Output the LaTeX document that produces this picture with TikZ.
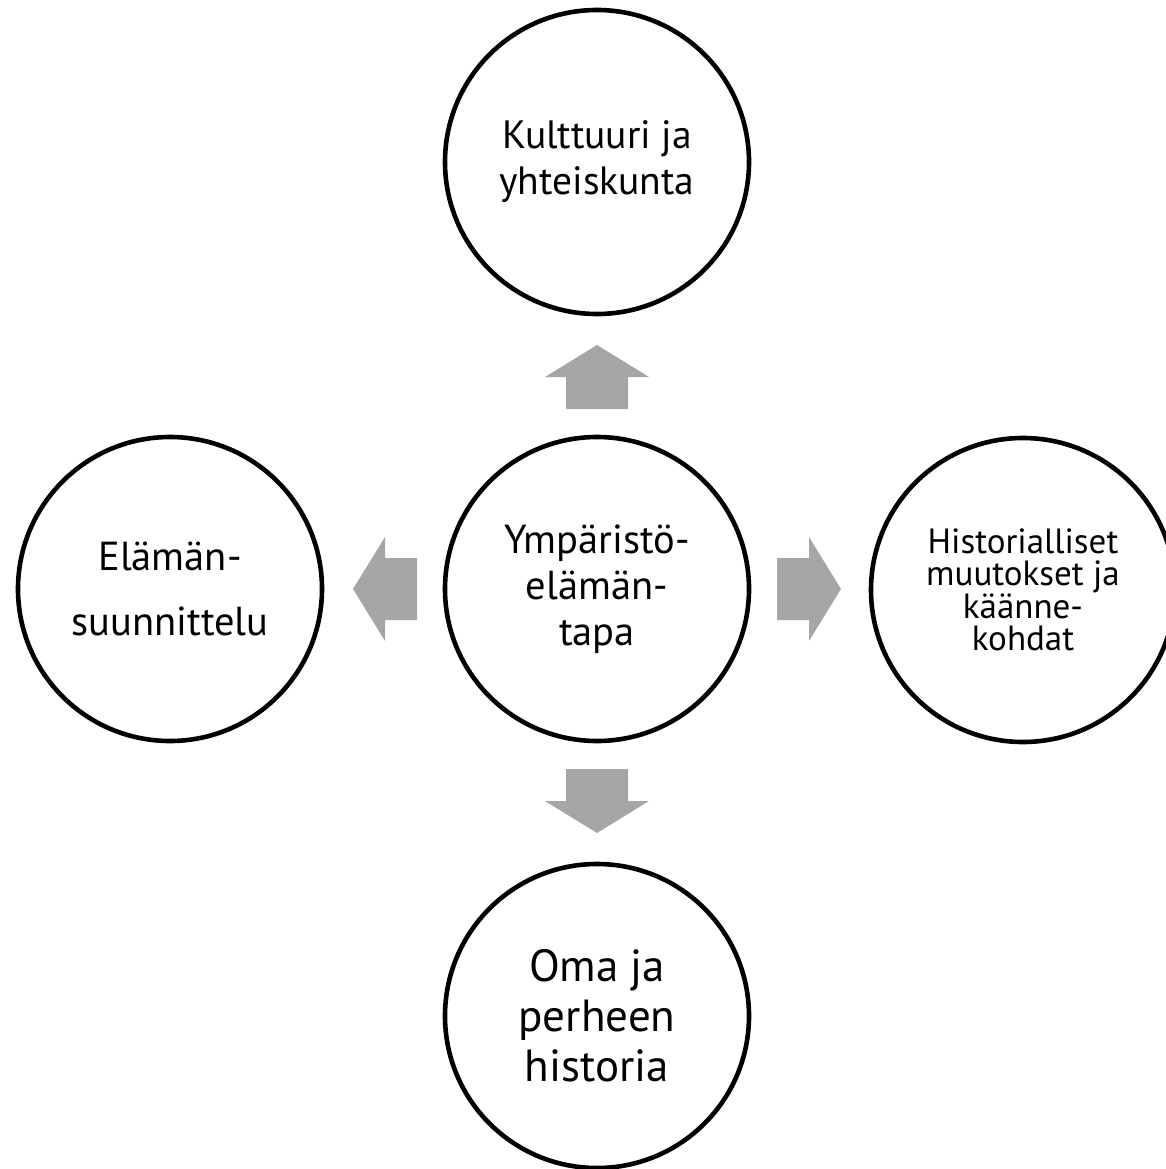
\documentclass[tikz,border=0pt]{standalone}
\usepackage{fontspec}
\setmainfont{PT Sans}
\definecolor{arrowgray}{HTML}{A6A6A6}
\lineskiplimit=-100pt
\begin{document}
\begin{tikzpicture}[x=1pt,y=-1pt,
  bubble/.style={circle, draw=black, line width=4.6pt, minimum size=304pt, inner sep=0pt, align=center, fill=white},
  blockarrow/.style={fill=arrowgray, draw=none}]
\useasboundingbox (0,0) rectangle (1166,1169);
\node[bubble, font={\fontsize{39.5}{46}\selectfont}] (top) at (597,162) {Kulttuuri ja\\yhteiskunta};
\node[bubble, font={\fontsize{40.5}{46}\selectfont}] (mid) at (597,589) {Ympäristö-\\elämän-\\tapa};
\node[bubble, font={\fontsize{40.5}{46}\selectfont}] (left) at (170,589) {Elämän-\\[19pt]suunnittelu};
\node[bubble, font={\fontsize{35}{32.5}\selectfont}] (right) at (1023,590) {Historialliset\\muutokset ja\\käänne-\\kohdat};
\node[bubble, font={\fontsize{45}{50}\selectfont}] (bot) at (597,1016) {Oma ja\\perheen\\historia};
\begin{scope}[shift={(mid.center)}]
\foreach \a in {0,90,180,270}
  \fill[blockarrow, rotate=\a] (180,-31) -- (212,-31) -- (212,-52) -- (244,0) -- (212,52) -- (212,31) -- (180,31) -- cycle;
\end{scope}
\end{tikzpicture}
\end{document}
